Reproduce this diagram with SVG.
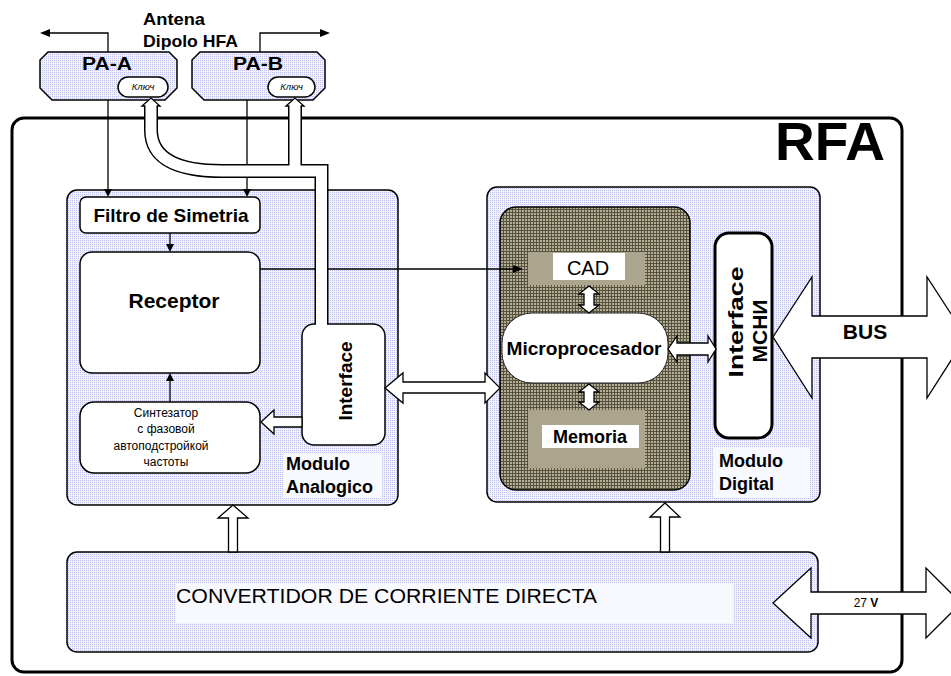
<svg xmlns="http://www.w3.org/2000/svg" width="951" height="676" viewBox="0 0 951 676">
<defs>
<pattern id="lav" width="2" height="2" patternUnits="userSpaceOnUse"><rect width="2" height="2" fill="#f2f2fd"/><rect width="1" height="1" fill="#c0c0ee"/></pattern>
<pattern id="dark" width="3" height="3" patternUnits="userSpaceOnUse"><rect width="3" height="3" fill="#57523f"/><rect width="2" height="2" fill="#b3ad93"/></pattern>
</defs>
<style>
text{font-family:"Liberation Sans",Arial,sans-serif;fill:#000}
.b{font-weight:bold}
.box{stroke:#000;stroke-width:1.5}
.lav{fill:url(#lav)}
.w{fill:#fff}
.ln{fill:none;stroke:#000;stroke-width:1.3}
.hol{fill:#fff;stroke:#000;stroke-width:1.3;stroke-linejoin:miter}
.ah{fill:#000}
</style>
<rect width="951" height="676" fill="#fff"/>
<g id="rfa">
<rect x="12" y="118" width="890" height="554" rx="12" fill="none" stroke="#000" stroke-width="3"/>
<text x="830" y="160" class="b" font-size="53" text-anchor="middle" textLength="110" lengthAdjust="spacingAndGlyphs">RFA</text>
</g>
<g id="antenna-label">
<text x="143" y="25" class="b" font-size="17" textLength="62" lengthAdjust="spacingAndGlyphs">Antena</text>
<text x="143" y="47" class="b" font-size="17" textLength="95" lengthAdjust="spacingAndGlyphs">Dipolo HFA</text>
</g>
<g id="pa-a">
<polygon class="box lav" points="48,52 169,52 177,60 177,88 165,100 52,100 40,88 40,60"/>
<text x="107" y="70" class="b" font-size="18" text-anchor="middle" textLength="50" lengthAdjust="spacingAndGlyphs">PA-A</text>
<rect class="box w" x="118" y="77" width="50" height="20" rx="10" stroke-width="1.2"/>
<text x="143" y="90" font-size="9.5" font-style="italic" text-anchor="middle">Ключ</text>
</g>
<g id="pa-b">
<polygon class="box lav" points="200,52 317,52 325,60 325,88 313,100 204,100 192,88 192,60"/>
<text x="258" y="70" class="b" font-size="18" text-anchor="middle" textLength="50" lengthAdjust="spacingAndGlyphs">PA-B</text>
<rect class="box w" x="268" y="77" width="47" height="20" rx="10" stroke-width="1.2"/>
<text x="291.5" y="90" font-size="9.5" font-style="italic" text-anchor="middle">Ключ</text>
</g>
<g id="modulo-analogico">
<rect class="box lav" x="67" y="190" width="331" height="315" rx="10"/>
<rect x="283" y="453" width="99" height="45" fill="#f8f8ff"/>
<text x="286" y="470" class="b" font-size="18">Modulo</text>
<text x="286" y="493" class="b" font-size="18">Analogico</text>
</g>
<g id="filtro">
<rect class="box w" x="80" y="197" width="180" height="36" rx="6"/>
<text x="171" y="222" class="b" font-size="19" text-anchor="middle">Filtro de Simetria</text>
</g>
<g id="receptor">
<rect class="box w" x="80" y="252" width="180" height="121" rx="12"/>
<text x="174" y="308" class="b" font-size="21" text-anchor="middle">Receptor</text>
</g>
<g id="sintetizador">
<rect class="box w" x="80" y="402" width="180" height="71" rx="14"/>
<text x="166" y="417" font-size="12" text-anchor="middle">Синтезатор</text>
<text x="166" y="433" font-size="12" text-anchor="middle">с фазовой</text>
<text x="161" y="450" font-size="12" text-anchor="middle">автоподстройкой</text>
<text x="166" y="466" font-size="12" text-anchor="middle">частоты</text>
</g>
<g id="interface-analog">
<rect class="box w" x="302" y="324" width="83" height="121" rx="12"/>
<text transform="translate(352,381) rotate(-90)" class="b" font-size="19" text-anchor="middle">Interface</text>
</g>
<g id="modulo-digital">
<rect class="box lav" x="487" y="187" width="333" height="315" rx="10"/>
<rect x="713" y="447" width="97" height="51" fill="#f8f8ff"/>
<text x="719" y="467" class="b" font-size="18">Modulo</text>
<text x="719" y="490" class="b" font-size="18">Digital</text>
</g>
<g id="microcomputador">
<rect x="500" y="207" width="190" height="283" rx="16" fill="url(#dark)" stroke="#000" stroke-width="1.5"/>
</g>
<g id="cad">
<rect x="528" y="252" width="117" height="33" fill="#aba58e"/>
<rect x="553" y="253" width="72" height="27" fill="#fff"/>
<text x="588" y="275" font-size="20" text-anchor="middle">CAD</text>
</g>
<g id="microprocesador">
<rect x="502" y="313" width="166" height="70" rx="30" fill="#fff" stroke="#222" stroke-width="1"/>
<text x="584" y="355" class="b" font-size="18" text-anchor="middle" textLength="155" lengthAdjust="spacingAndGlyphs">Microprocesador</text>
</g>
<g id="memoria">
<rect x="528" y="410" width="117" height="58" fill="#aba58e"/>
<rect x="542" y="425" width="97" height="23" fill="#fff"/>
<text x="590" y="443" class="b" font-size="18" text-anchor="middle">Memoria</text>
</g>
<g id="interface-mchi">
<rect x="715" y="233" width="57" height="205" rx="14" fill="#fff" stroke="#000" stroke-width="3"/>
<text transform="translate(743,322) rotate(-90)" class="b" font-size="21" text-anchor="middle" textLength="111" lengthAdjust="spacingAndGlyphs">Interface</text>
<text transform="translate(767,331) rotate(-90)" class="b" font-size="21" text-anchor="middle">МСНИ</text>
</g>
<g id="convertidor">
<rect class="box lav" x="67" y="552" width="751" height="100" rx="10"/>
<rect x="176" y="583" width="557" height="40" fill="#f8f8ff"/>
<text x="176" y="603" font-size="20" textLength="421" lengthAdjust="spacingAndGlyphs">CONVERTIDOR DE CORRIENTE DIRECTA</text>
</g>
<g id="connectors">
<polyline class="ln" points="108,52 108,33 48,33"/>
<polygon class="ah" points="40,33 50,29 50,37"/>
<polyline class="ln" points="260,52 260,33 322,33"/>
<polygon class="ah" points="330,33 320,29 320,37"/>
<line class="ln" x1="108" y1="100" x2="108" y2="190"/>
<polygon class="ah" points="108,197 104,189 112,189"/>
<line class="ln" x1="247" y1="100" x2="247" y2="190"/>
<polygon class="ah" points="247,197 243,189 251,189"/>
<line class="ln" x1="170" y1="233" x2="170" y2="245"/>
<polygon class="ah" points="170,252 166,244 174,244"/>
<line class="ln" x1="170" y1="402" x2="170" y2="380"/>
<polygon class="ah" points="170,373 166,381 174,381"/>
<line class="ln" x1="260" y1="269" x2="515" y2="269"/>
<polygon class="ah" points="523,269 513,265 513,273"/>
<path d="M321.5 324 V171 H222 C180 171 151 160 151 130 V106 M295 171 V106" fill="none" stroke="#000" stroke-width="14"/>
<polygon class="hol" points="142,106 151,98 160,106"/>
<polygon class="hol" points="286,106 295,98 304,106"/>
<path d="M321.5 326 V171 H222 C180 171 151 160 151 130 V104 M295 172 V104" fill="none" stroke="#fff" stroke-width="11"/>
<polygon class="hol" points="261,422 274,410 274,417 302,417 302,427 274,427 274,434"/>
<polygon class="hol" points="385,388 403,373 403,382 485,382 485,373 500,388 485,403 485,393 403,393 403,403"/>
<polygon class="hol" points="589,286 599,294 594,294 594,305 599,305 589,313 579,305 584,305 584,294 579,294"/>
<polygon class="hol" points="589,384 599,392 594,392 594,402 599,402 589,410 579,402 584,402 584,392 579,392"/>
<polygon class="hol" points="668,349 677,336 677,343 708,343 708,336 716,349 708,362 708,355 677,355 677,362"/>
<polygon class="hol" points="773,337 812,277 812,316 927,316 927,277 966,337 927,398 927,358 812,358 812,398"/>
<polygon class="hol" points="773,603 811,568 811,592 926,592 926,568 961,603 926,638 926,614 811,614 811,638"/>
<polygon class="hol" points="233,505 248,518 237.5,518 237.5,552 228.5,552 228.5,518 218,518"/>
<polygon class="hol" points="665,503 680,517 669.5,517 669.5,552 660.5,552 660.5,517 650,517"/>
</g>
<g id="labels">
<text x="865" y="339" class="b" font-size="21" text-anchor="middle">BUS</text>
<text x="866" y="607" font-size="12" text-anchor="middle">27 <tspan font-weight="bold">V</tspan></text>
</g>
</svg>
